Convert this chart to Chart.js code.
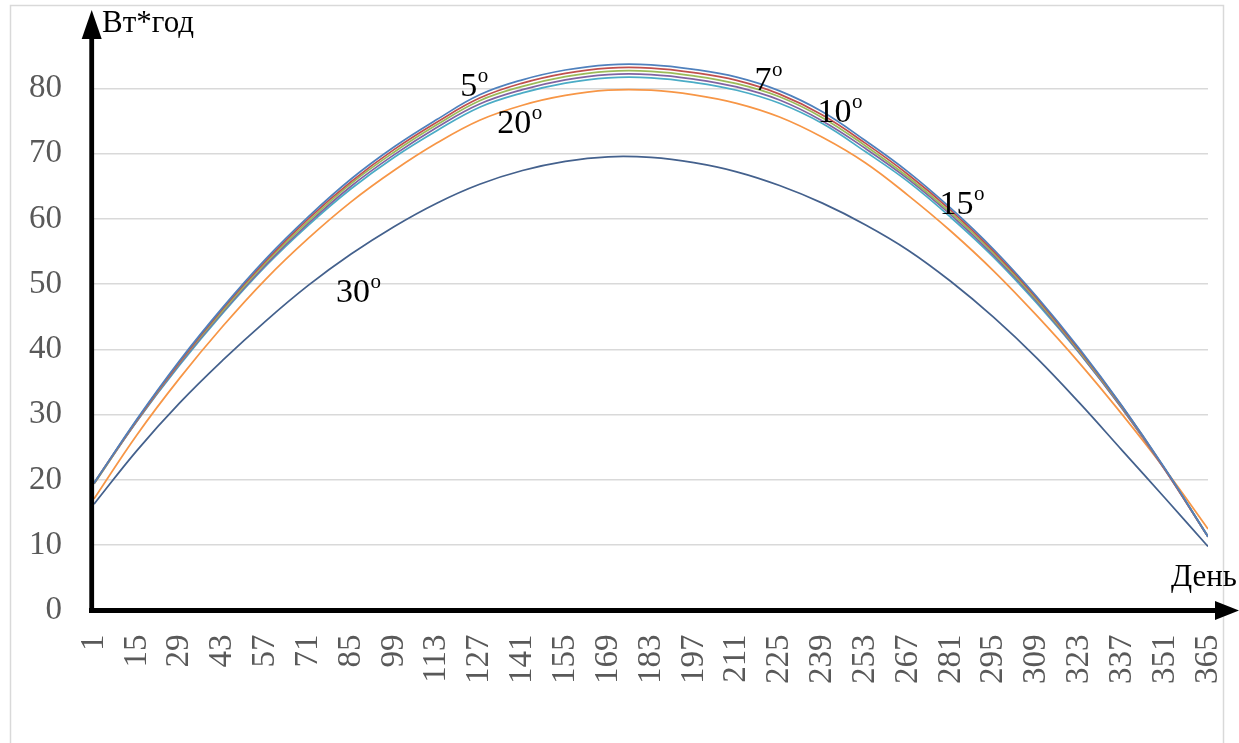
<!DOCTYPE html>
<html>
<head>
<meta charset="utf-8">
<script src="https://cdn.jsdelivr.net/npm/chart.js@4.4.1/dist/chart.umd.min.js"></script>
<style>
html, body { margin: 0; padding: 0; background: #fff; }
#wrap { position: relative; width: 1239px; height: 743px; }
</style>
</head>
<body>
<div id="wrap"><canvas id="chart" width="1239" height="743"></canvas></div>
<script>
// day of year, one point every 14 days (same as the axis labels)
var days = [1, 15, 29, 43, 57, 71, 85, 99, 113, 127, 141, 155, 169, 183, 197, 211, 225, 239, 253, 267, 281, 295, 309, 323, 337, 351, 365];

// energy per day, W*h, for each panel tilt angle
var tilt0  = [19.5, 29.3, 38.3, 46.4, 53.8, 60.3, 66.1, 71.0, 75.2, 79.0, 81.3, 82.8, 83.6, 83.6, 82.9, 81.7, 79.6, 76.4, 72.0, 67.2, 61.6, 55.3, 48.1, 40.1, 31.3, 21.7, 11.3];
var tilt5  = [19.5, 29.2, 38.1, 46.2, 53.5, 60.0, 65.7, 70.6, 74.8, 78.5, 80.8, 82.3, 83.1, 83.1, 82.4, 81.2, 79.1, 75.9, 71.6, 66.8, 61.3, 55.0, 47.9, 39.9, 31.2, 21.6, 11.3];
var tilt7  = [19.4, 29.1, 38.0, 45.9, 53.2, 59.6, 65.4, 70.2, 74.4, 78.1, 80.3, 81.8, 82.6, 82.6, 81.9, 80.7, 78.7, 75.5, 71.2, 66.4, 60.9, 54.7, 47.6, 39.7, 31.1, 21.6, 11.3];
var tilt10 = [19.4, 29.0, 37.8, 45.7, 52.9, 59.3, 65.0, 69.8, 74.0, 77.6, 79.8, 81.3, 82.1, 82.1, 81.4, 80.2, 78.2, 75.0, 70.8, 66.1, 60.6, 54.4, 47.4, 39.5, 30.9, 21.5, 11.3];
var tilt15 = [19.6, 29.0, 37.6, 45.5, 52.7, 59.0, 64.6, 69.4, 73.5, 77.1, 79.3, 80.8, 81.6, 81.6, 80.9, 79.7, 77.7, 74.6, 70.3, 65.7, 60.2, 54.1, 47.1, 39.4, 30.9, 21.6, 11.4];
var tilt20 = [17.1, 26.9, 35.6, 43.5, 50.7, 57.0, 62.6, 67.4, 71.6, 75.1, 77.4, 78.9, 79.7, 79.7, 79.0, 77.7, 75.6, 72.5, 68.6, 63.6, 58.1, 52.0, 45.2, 37.9, 30.0, 21.6, 12.5];
var tilt30 = [16.3, 24.5, 31.8, 38.3, 44.3, 49.8, 54.6, 58.8, 62.4, 65.3, 67.4, 68.8, 69.5, 69.4, 68.6, 67.2, 65.1, 62.4, 59.1, 55.2, 50.4, 44.9, 38.7, 31.8, 24.5, 17.2, 9.8];

var seriesNames = ['0°', '5°', '7°', '10°', '15°', '20°', '30°'];
var seriesColors = ['#4F81BD', '#C0504D', '#9BBB59', '#8064A2', '#4BACC6', '#F79646', '#44618d'];
var seriesValues = [tilt0, tilt5, tilt7, tilt10, tilt15, tilt20, tilt30];

// angle notes written on the plot (day, value at text baseline)
var noteText  = ['5', '7', '10', '15', '20', '30'];
var noteDay   = [120.7, 216.8, 237.4, 277.3, 132.8, 80.1];
var noteValue = [78.8, 79.7, 74.9, 60.7, 73.1, 47.2];

var serif = '"Liberation Serif", "Times New Roman", serif';

function toPoints(vals) {
    return vals.map(function (v, i) { return { x: days[i], y: v }; });
}

var datasets = seriesValues.map(function (vals, i) {
    return {
        label: seriesNames[i],
        data: toPoints(vals),
        borderColor: seriesColors[i],
        borderWidth: 1.75,
        pointRadius: 0,
        fill: false,
        tension: 0.4
    };
});

// frame, hand-drawn arrows, axis captions and angle notes
var decorPlugin = {
    id: 'decor',
    beforeDraw: function (chart) {
        var c = chart.ctx;
        c.save();
        c.fillStyle = '#fff';
        c.fillRect(0, 0, chart.width, chart.height);
        c.strokeStyle = '#d9d9d9';
        c.lineWidth = 1.5;
        c.beginPath();
        c.moveTo(10.5, 743);
        c.lineTo(10.5, 5.5);
        c.lineTo(1223.5, 5.5);
        c.lineTo(1223.5, 743);
        c.stroke();
        c.restore();
    },
    afterDraw: function (chart) {
        var c = chart.ctx;
        var xs = chart.scales.x, ys = chart.scales.y;
        c.save();

        // y axis with arrow
        c.fillStyle = '#000';
        c.fillRect(89.3, 36, 4.8, 613 - 36);
        c.beginPath();
        c.moveTo(91.7, 10);
        c.lineTo(81.7, 39);
        c.lineTo(101.7, 39);
        c.closePath();
        c.fill();

        // x axis with arrow
        var y0 = ys.getPixelForValue(0);
        c.fillRect(89, y0 - 2.5, 1218 - 89, 5);
        c.beginPath();
        c.moveTo(1239, y0);
        c.lineTo(1215, y0 - 9.5);
        c.lineTo(1215, y0 + 9.5);
        c.closePath();
        c.fill();

        // axis captions
        c.textBaseline = 'alphabetic';
        c.textAlign = 'left';
        c.font = '31px ' + serif;
        c.fillText('Вт*год', 102, 32);
        c.fillText('День', 1171, 586);

        // angle notes: number plus small raised "o"
        for (var i = 0; i < noteText.length; i++) {
            var px = xs.getPixelForValue(noteDay[i]);
            var py = ys.getPixelForValue(noteValue[i]);
            c.font = '34px ' + serif;
            c.fillText(noteText[i], px, py);
            var w = c.measureText(noteText[i]).width;
            c.font = '21px ' + serif;
            c.fillText('o', px + w + 0.5, py - 14);
        }
        c.restore();
    }
};

new Chart(document.getElementById('chart'), {
    type: 'line',
    data: { datasets: datasets },
    options: {
        responsive: false,
        animation: false,
        layout: { padding: { top: 23, right: 31, bottom: 0, left: 0 } },
        plugins: {
            legend: { display: false },
            tooltip: { enabled: false }
        },
        scales: {
            x: {
                type: 'linear',
                min: 1,
                max: 365,
                afterBuildTicks: function (scale) {
                    scale.ticks = days.map(function (d) { return { value: d }; });
                },
                afterFit: function (scale) {
                    scale.height = 743 - 610.5;
                    scale.paddingLeft = 0;
                    scale.paddingRight = 0;
                },
                grid: { display: false, drawTicks: false },
                border: { display: false },
                ticks: {
                    autoSkip: false,
                    minRotation: 90,
                    maxRotation: 90,
                    padding: 24,
                    color: '#595959',
                    font: { family: serif, size: 33 },
                    callback: function (v) { return String(v); }
                }
            },
            y: {
                min: 0,
                max: 90,
                afterFit: function (scale) {
                    scale.width = 94;
                    scale.paddingTop = 0;
                    scale.paddingBottom = 0;
                },
                grid: {
                    drawTicks: false,
                    lineWidth: 1.5,
                    color: function (ctx) {
                        if (ctx.tick && (ctx.tick.value === 90 || ctx.tick.value === 0)) return 'rgba(0,0,0,0)';
                        return '#d9d9d9';
                    }
                },
                border: { display: false },
                ticks: {
                    stepSize: 10,
                    padding: 32,
                    color: '#595959',
                    font: { family: serif, size: 33 },
                    callback: function (v) { return v === 90 ? '' : v; }
                }
            }
        }
    },
    plugins: [decorPlugin]
});
</script>
</body>
</html>
